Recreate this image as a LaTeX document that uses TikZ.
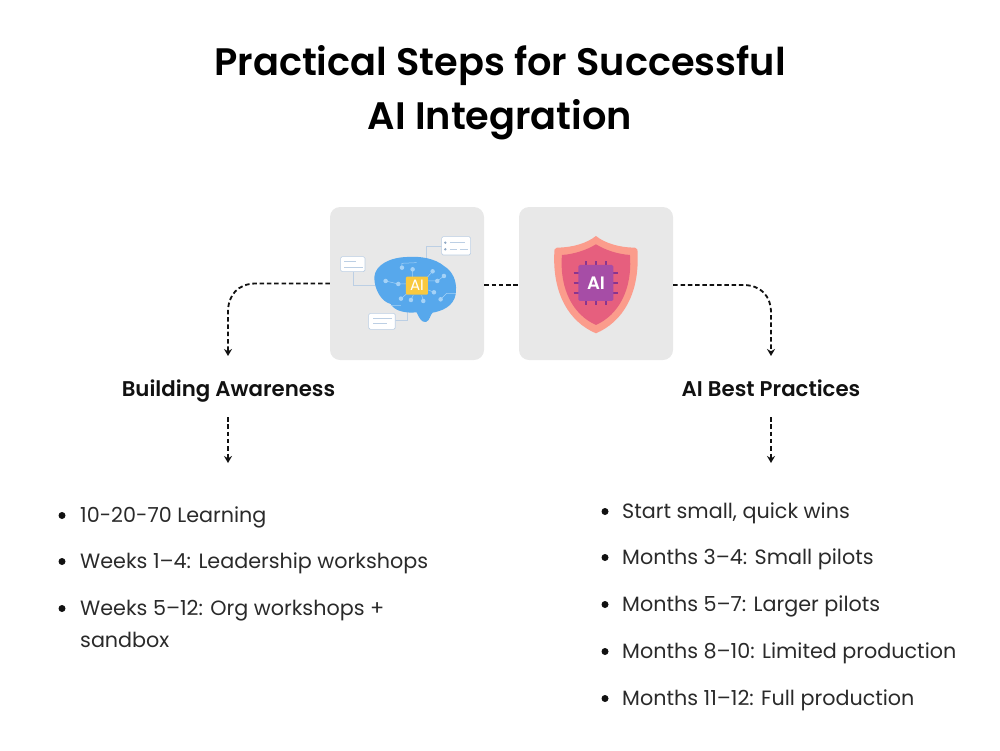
\documentclass[tikz,border=0pt]{standalone}
\usepackage{fontspec}
\setmainfont{Poppins}[UprightFont=*-Regular,BoldFont=*-SemiBold]
\usetikzlibrary{arrows.meta}
\definecolor{panelgray}{HTML}{E8E8E8}
\definecolor{brainblue}{HTML}{57A8EC}
\definecolor{dotblue}{HTML}{A4D2F7}
\definecolor{wireblue}{HTML}{BCCFE4}
\definecolor{wiredark}{HTML}{8FA8C4}
\definecolor{aiyellow}{HTML}{F9C93F}
\definecolor{shieldout}{HTML}{FB9C8C}
\definecolor{shieldin}{HTML}{E65F7E}
\definecolor{chipfill}{HTML}{A64DA6}
\definecolor{pincolor}{HTML}{8A3590}
\definecolor{ink}{HTML}{111111}
\definecolor{bodyink}{HTML}{2A2A2A}
\tikzset{
  panel/.style={fill=panelgray,draw=none,rounded corners=10pt,minimum width=154pt,minimum height=153pt,inner sep=0pt},
  flow/.style={draw=ink,line width=1.8pt,dash pattern=on 4.5pt off 2.8pt},
  flowtip/.style={flow,-{Stealth[length=7pt,width=8pt]}},
  titletext/.style={font=\bfseries\fontsize{38.3}{38.3}\selectfont,text=black,anchor=base,inner sep=0pt},
  headtext/.style={font=\bfseries\fontsize{21.3}{21.3}\selectfont,text=ink,anchor=base,inner sep=0pt},
  listtext/.style={font=\fontsize{20.7}{20.7}\selectfont,text=bodyink,anchor=base west,inner sep=0pt},
  bulletdot/.style={circle,fill=ink,minimum size=7pt,inner sep=0pt},
  card/.style={fill=white,draw=wireblue,line width=0.6pt,rounded corners=1.5pt},
  wire/.style={draw=wireblue,line width=0.8pt},
  cardline/.style={draw=wireblue,line width=0.9pt},
  bdot/.style={circle,fill=dotblue,inner sep=0pt,minimum size=4.5pt},
  chiptick/.style={draw=pincolor,line width=2.6pt},
}
\begin{document}
\begin{tikzpicture}[x=1pt,y=-1pt]
\useasboundingbox (0,0) rectangle (1000,750);
\node[titletext] (t1) at (500,75) {Practical Steps for Successful};
\node[titletext] (t2) at (500,129) {AI Integration};

\node[panel] (pa) at (407,283.5) {};
\node[panel] (pb) at (596,283.5) {};

% brain icon
\begin{scope}[x=0.3333pt,y=-0.3333pt,shift={(960,600)}]
  \draw[wire] (100,215) -- (100,257) -- (175,257);
  \draw[wire] (318,175) -- (318,138) -- (365,138);
  \draw[wire] (262,330) -- (262,362) -- (225,362);
  \fill[brainblue] (163,232) .. controls (165,195) and (210,172) .. (262,171)
    .. controls (300,168) and (345,175) .. (372,198)
    .. controls (400,215) and (410,245) .. (408,272)
    .. controls (408,305) and (385,330) .. (338,338)
    .. controls (330,345) and (330,362) .. (318,366)
    .. controls (305,368) and (298,355) .. (290,337)
    .. controls (260,340) and (225,335) .. (212,312)
    .. controls (185,305) and (163,270) .. (163,232) -- cycle;
  \draw[dotblue,line width=0.5pt] (197,243) -- (235,252) -- (258,252)
    (246,203) -- (246,190) -- (290,188)
    (278,208) -- (278,232)
    (338,214) -- (322,232)
    (372,228) -- (352,243) -- (325,243)
    (342,277) -- (325,270)
    (362,298) -- (380,280) -- (408,280)
    (243,296) -- (262,280)
    (273,300) -- (280,285)
    (310,303) -- (305,285)
    (212,316) -- (243,316);
  \foreach \p in {(197,243),(235,252),(246,203),(278,208),(338,214),(372,228),(352,243),(342,277),(362,298),(243,296),(273,300),(310,303)}
    \node[bdot] at \p {};
  \node[fill=aiyellow,minimum width=22pt,minimum height=18pt,inner sep=0pt,rounded corners=1pt,text=white,font=\fontsize{15}{15}\selectfont] (aia) at (291,257) {AI};
  \draw[card] (62,170) rectangle (135,215);
  \draw[cardline] (73,183) -- (108,183) (73,201) -- (128,201);
  \draw[card] (365,110) rectangle (452,165);
  \fill[wiredark] (376,128) circle (4) (376,148) circle (4);
  \draw[cardline] (390,128) -- (436,128) (390,148) -- (410,148) (420,148) -- (444,148);
  \draw[card] (146,340) rectangle (226,388);
  \draw[cardline] (160,354) -- (216,354) (160,371) -- (200,371);
\end{scope}

% shield icon
\begin{scope}[x=0.3333pt,y=-0.3333pt,shift={(1530,600)}]
  \fill[shieldout] (258,108) .. controls (285,130) and (330,143) .. (375,143)
    .. controls (382,143) and (383,150) .. (383,160)
    .. controls (388,280) and (340,365) .. (258,400)
    .. controls (176,365) and (128,280) .. (133,160)
    .. controls (133,150) and (134,143) .. (141,143)
    .. controls (186,143) and (231,130) .. (258,108) -- cycle;
  \fill[shieldin] (258,133) .. controls (285,150) and (325,163) .. (360,165)
    .. controls (368,270) and (325,345) .. (258,375)
    .. controls (191,345) and (148,270) .. (156,165)
    .. controls (191,163) and (231,150) .. (258,133) -- cycle;
  \foreach \d in {-30,0,30} {
    \draw[chiptick] (258+\d,184) -- (258+\d,196);
    \draw[chiptick] (258+\d,302) -- (258+\d,314);
    \draw[chiptick] (191,249+\d) -- (206,249+\d);
    \draw[chiptick] (310,249+\d) -- (325,249+\d);
  }
  \node[fill=chipfill,minimum width=35pt,minimum height=36pt,inner sep=0pt,rounded corners=1.5pt,text=white,font=\bfseries\fontsize{18}{18}\selectfont] (aib) at (258,249) {AI};
\end{scope}

% connectors
\coordinate (la) at (228,356);
\coordinate (ra) at (771,356);
\coordinate (l1) at (228,417);
\coordinate (l2) at (228,463);
\coordinate (r1) at (771,417);
\coordinate (r2) at (771,463);
\draw[flowtip] (pa.west |- 0,283.5) -- (256,283.5) .. controls (238,283.5) and (228,295) .. (228,312) -- (la);
\draw[flowtip] (pb.east |- 0,285) -- (743,285) .. controls (761,285) and (771,296) .. (771,313) -- (ra);
\draw[flow] (pa.east |- 0,285) -- (pb.west |- 0,285);
\draw[flowtip] (l1) -- (l2);
\draw[flowtip] (r1) -- (r2);

\node[headtext] (hl) at (228.5,396) {Building Awareness};
\node[headtext] (hr) at (771,396) {AI Best Practices};

% left list
\node[bulletdot] (b1) at (62,515.5) {};
\node[listtext] (x1) at (80,522.3) {10-20-70 Learning};
\node[bulletdot] (b2) at (62,561.5) {};
\node[listtext] (x2) at (80,568.3) {Weeks 1–4: Leadership workshops};
\node[bulletdot] (b3) at (62,608.5) {};
\node[listtext] (x3) at (80,615.3) {Weeks 5–12: Org workshops +};
\node[listtext] (x3b) at (80,647.3) {sandbox};

% right list
\node[bulletdot] (c1) at (605,511.5) {};
\node[listtext] (y1) at (622,518.3) {Start small, quick wins};
\node[bulletdot] (c2) at (605,557.5) {};
\node[listtext] (y2) at (622,564.3) {Months 3–4: Small pilots};
\node[bulletdot] (c3) at (605,604.5) {};
\node[listtext] (y3) at (622,611.3) {Months 5–7: Larger pilots};
\node[bulletdot] (c4) at (605,651.5) {};
\node[listtext] (y4) at (622,658.3) {Months 8–10: Limited production};
\node[bulletdot] (c5) at (605,698.5) {};
\node[listtext] (y5) at (622,705.3) {Months 11–12: Full production};
\end{tikzpicture}
\end{document}
